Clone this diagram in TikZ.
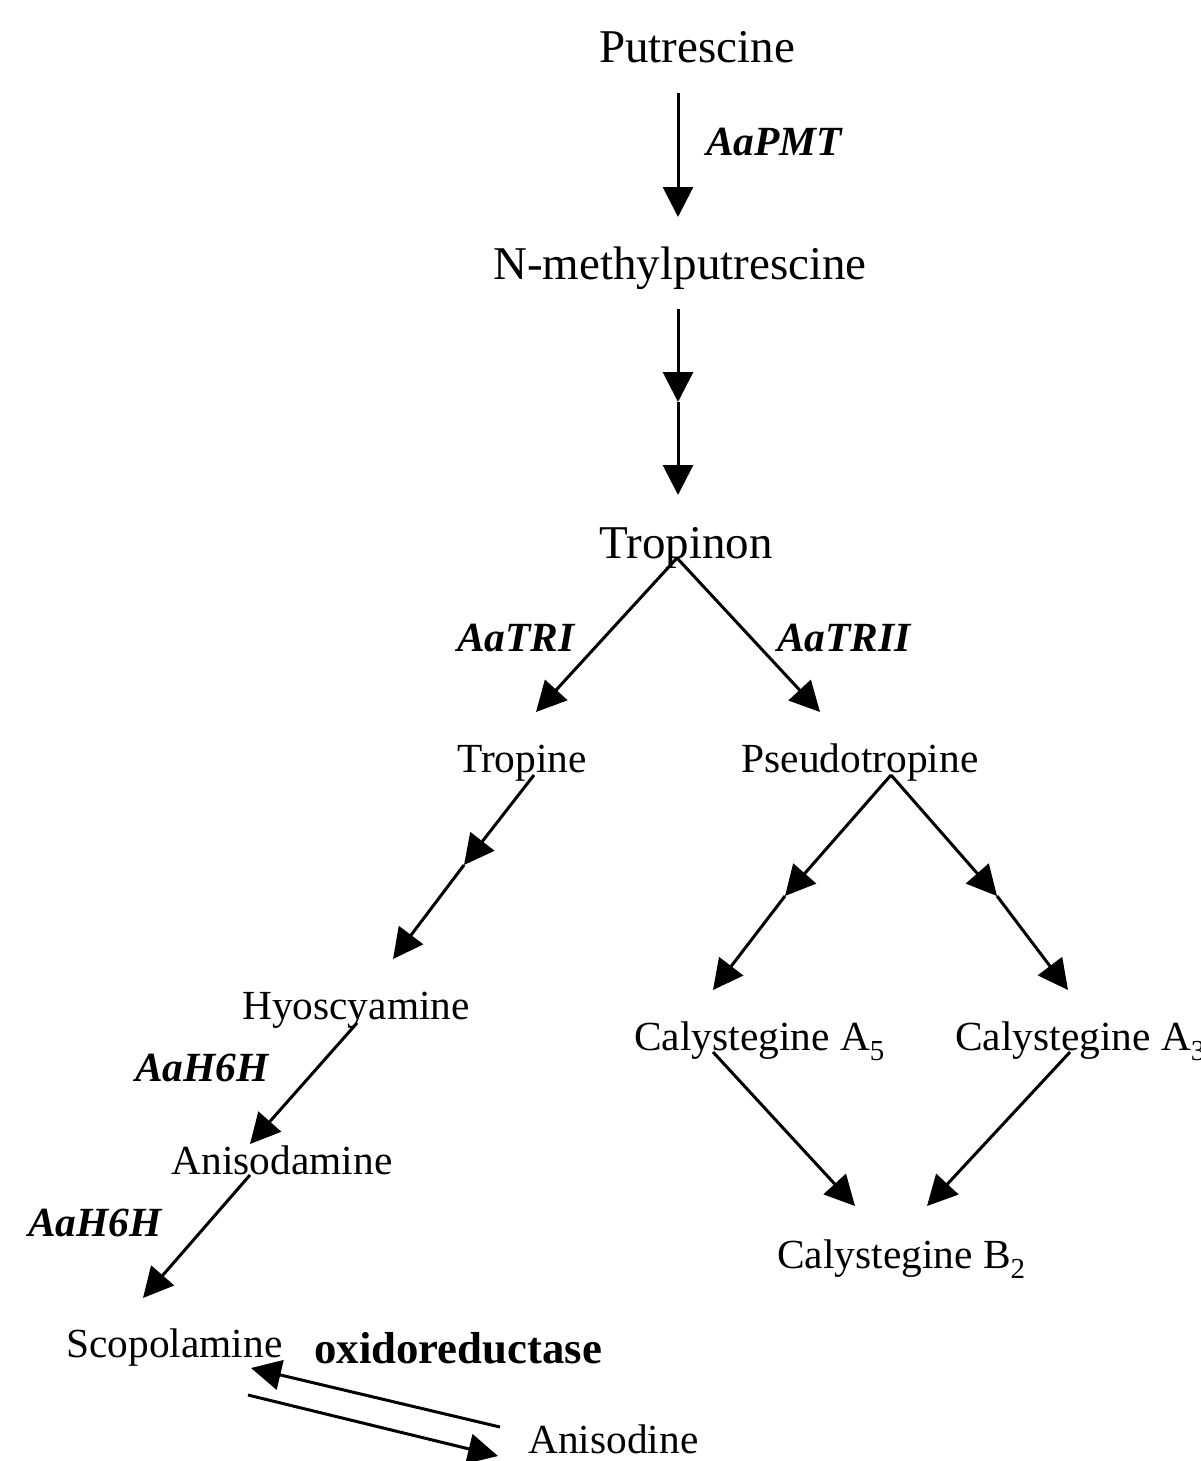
\documentclass[tikz,border=0pt]{standalone}
\usepackage{fontspec}
\setmainfont{Liberation Serif}
\usetikzlibrary{arrows.meta}
\begin{document}
\begin{tikzpicture}[x=1pt,y=-1pt,
  big/.style={inner sep=0pt,anchor=base,font=\fontsize{47}{50}\selectfont},
  mid/.style={inner sep=0pt,anchor=base,font=\fontsize{41.4}{44}\selectfont},
  enz/.style={inner sep=0pt,anchor=base west,font=\fontsize{41.5}{44}\selectfont\bfseries\itshape},
  arr/.style={line width=3pt,-{Triangle[length=30pt,width=30pt]}},
  ln/.style={line width=3pt}]
\useasboundingbox (0,0) rectangle (1200,1461);
% compounds
\node[big] (put) at (697,63) {Putrescine};
\node[big] (nmp) at (680,279) {N-methylputrescine};
\node[big] (tpn) at (686,558) {Tropinon};
\node[mid] (tro) at (522,772) {Tropine};
\node[mid] (pse) at (860,772) {Pseudotropine};
\node[mid] (hyo) at (356,1019) {Hyoscyamine};
\node[mid,anchor=base west] (ca5) at (634,1050) {Calystegine A\textsubscript{5}};
\node[mid,anchor=base west] (ca3) at (955,1050) {Calystegine A\textsubscript{3}};
\node[mid] (ani) at (282,1174) {Anisodamine};
\node[mid,anchor=base west] (cb2) at (777,1268) {Calystegine B\textsubscript{2}};
\node[mid,anchor=base west] (sco) at (66,1357) {Scopolamine};
\node[mid,anchor=base west] (ais) at (528,1453) {Anisodine};
% enzyme labels
\node[enz] (pmt) at (706,155) {AaPMT};
\node[enz] (tr1) at (457,651) {AaTRI};
\node[enz] (tr2) at (777,651) {AaTRII};
\node[enz] (h6a) at (135,1081) {AaH6H};
\node[enz] (h6b) at (28,1236) {AaH6H};
\node[inner sep=0pt,anchor=base west,font=\fontsize{44.8}{46}\selectfont\bfseries] (oxr) at (314,1363) {oxidoreductase};
% connector end points
\coordinate (putS) at (678,93);
\coordinate (nmpN) at (678,217);
\coordinate (nmpS) at (678,309);
\coordinate (m1) at (678,402);
\coordinate (tpnN) at (678,495);
\coordinate (tpnS) at (677,558);
\coordinate (troN) at (536,712);
\coordinate (pseN) at (820,712);
\coordinate (troS) at (534,775);
\coordinate (m2) at (464,865);
\coordinate (hyoN) at (393,959);
\coordinate (pseS) at (891,775);
\coordinate (m3) at (785,896);
\coordinate (ca5N) at (713,990);
\coordinate (m4) at (997,896);
\coordinate (ca3N) at (1068,990);
\coordinate (hyoS) at (357,1023);
\coordinate (aniN) at (250,1144);
\coordinate (aniS) at (250,1175);
\coordinate (scoN) at (143,1298);
\coordinate (ca5S) at (713,1052);
\coordinate (ca3S) at (1070,1052);
\coordinate (cb2A) at (855,1206);
\coordinate (cb2B) at (927,1206);
\coordinate (scoE) at (251,1368);
\coordinate (aisW) at (500,1427);
\coordinate (scoF) at (248,1395);
\coordinate (aisV) at (498,1456);
% connectors
\draw[arr] (putS) -- (nmpN);
\draw[arr] (nmpS) -- (m1);
\draw[arr] (m1) -- (tpnN);
\draw[arr] (tpnS) -- (troN);
\draw[arr] (tpnS) -- (pseN);
\draw[arr] (troS) -- (m2);
\draw[arr] (m2) -- (hyoN);
\draw[arr] (pseS) -- (m3);
\draw[arr] (m3) -- (ca5N);
\draw[arr] (pseS) -- (m4);
\draw[arr] (m4) -- (ca3N);
\draw[arr] (hyoS) -- (aniN);
\draw[arr] (aniS) -- (scoN);
\draw[arr] (ca5S) -- (cb2A);
\draw[arr] (ca3S) -- (cb2B);
\draw[arr] (aisW) -- (scoE);
\draw[arr] (scoF) -- (aisV);
\end{tikzpicture}
\end{document}
